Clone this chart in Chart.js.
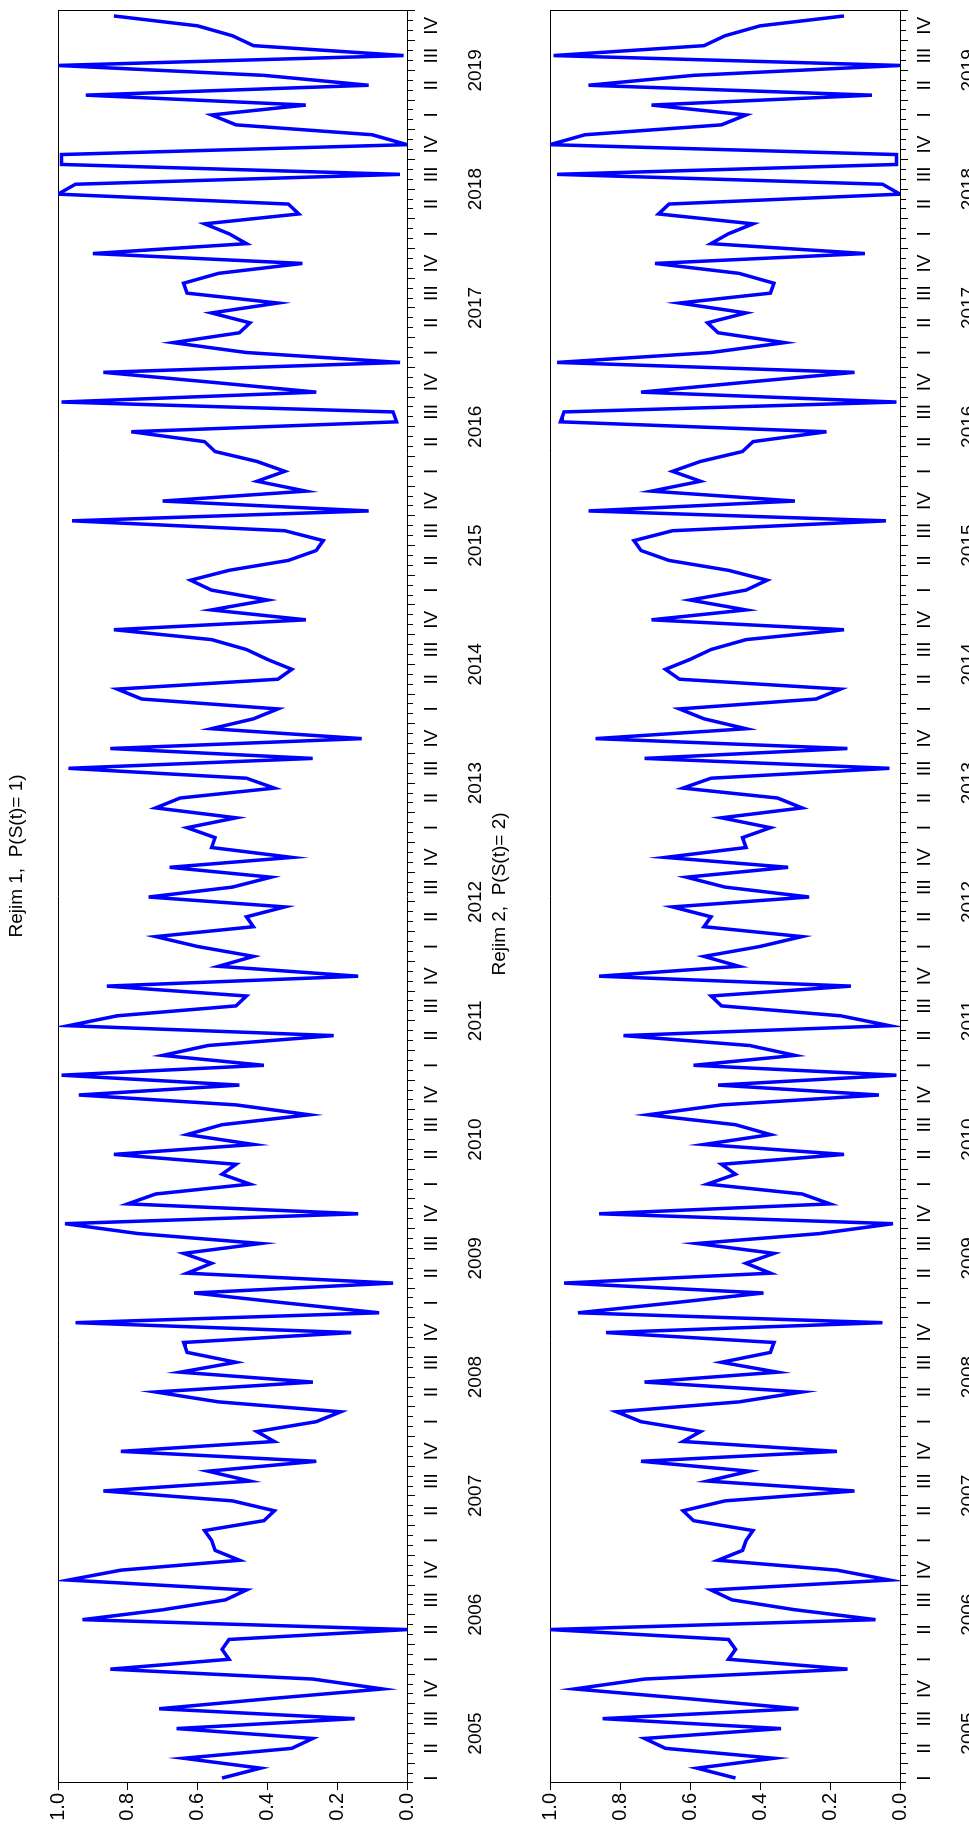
<!DOCTYPE html>
<html>
<head>
<meta charset="utf-8">
<script src="https://cdn.jsdelivr.net/npm/chart.js@4.4.1/dist/chart.umd.min.js"></script>
<style>
  html, body { margin: 0; padding: 0; background: #fff; overflow: hidden; }
  /* The two panels are laid out as a wide landscape sheet and turned a quarter turn */
  #sheet {
    position: absolute; left: 0; top: 0;
    width: 1832px; height: 969px;
    transform-origin: 0 0;
    transform: translateY(1832px) rotate(-90deg);
    background: #fff;
  }
  #sheet canvas { position: absolute; left: 0; }
  .panel-title {
    position: absolute;
    width: 600px;
    text-align: center;
    font: 19px 'Liberation Sans', Arial, Helvetica, sans-serif;
    line-height: 22px;
    color: #000;
    white-space: pre;
  }
</style>
</head>
<body>
<div id="sheet">
  <canvas id="regime1Chart" width="1832" height="485" style="top:0"></canvas>
  <canvas id="regime2Chart" width="1832" height="484" style="top:485px"></canvas>
  <div class="panel-title" id="title1" style="left:676px; top:5px;"></div>
  <div class="panel-title" id="title2" style="left:638px; top:488px;"></div>
</div>
<script>
// Monthly smoothed regime probabilities, 2005M02 - 2019M12
const years = [2005, 2006, 2007, 2008, 2009, 2010, 2011, 2012, 2013, 2014, 2015, 2016, 2017, 2018, 2019];
const quarterNames = ['I', 'II', 'III', 'IV'];
const panelTitles = ['Rejim 1,  P(S(t)= 1)', 'Rejim 2,  P(S(t)= 2)'];
const firstMonthOffset = 1; // series starts in February of the first year

const regime1 = [
  0.53, 0.42, 0.64, 0.33, 0.27, 0.66, 0.15, 0.71, 0.40, 0.07,
  0.27, 0.85, 0.51, 0.53, 0.51, 0.00, 0.93, 0.70, 0.52, 0.46,
  0.97, 0.82, 0.48, 0.55, 0.56, 0.58, 0.41, 0.38, 0.50, 0.87,
  0.45, 0.57, 0.26, 0.82, 0.38, 0.43, 0.26, 0.19, 0.54, 0.72,
  0.27, 0.65, 0.49, 0.63, 0.64, 0.16, 0.95, 0.08, 0.35, 0.61,
  0.04, 0.63, 0.56, 0.64, 0.42, 0.77, 0.98, 0.14, 0.80, 0.72,
  0.45, 0.53, 0.49, 0.84, 0.44, 0.63, 0.53, 0.28, 0.49, 0.94,
  0.48, 0.99, 0.41, 0.70, 0.57, 0.21, 0.97, 0.83, 0.49, 0.46,
  0.86, 0.14, 0.54, 0.44, 0.60, 0.72, 0.44, 0.46, 0.35, 0.74,
  0.50, 0.39, 0.68, 0.33, 0.56, 0.55, 0.63, 0.49, 0.72, 0.65,
  0.38, 0.46, 0.97, 0.27, 0.85, 0.13, 0.56, 0.44, 0.37, 0.76,
  0.83, 0.37, 0.33, 0.40, 0.46, 0.56, 0.84, 0.29, 0.56, 0.40,
  0.56, 0.62, 0.51, 0.34, 0.26, 0.24, 0.35, 0.96, 0.11, 0.70,
  0.29, 0.43, 0.35, 0.43, 0.55, 0.58, 0.79, 0.03, 0.04, 0.99,
  0.26, 0.56, 0.87, 0.02, 0.46, 0.67, 0.48, 0.45, 0.56, 0.37,
  0.63, 0.64, 0.54, 0.30, 0.90, 0.46, 0.51, 0.58, 0.31, 0.34,
  1.00, 0.95, 0.02, 0.99, 0.99, 0.00, 0.10, 0.49, 0.56, 0.29,
  0.92, 0.11, 0.41, 1.00, 0.01, 0.44, 0.50, 0.60, 0.84
];

const regime2 = [
  0.47, 0.58, 0.36, 0.67, 0.73, 0.34, 0.85, 0.29, 0.60, 0.93,
  0.73, 0.15, 0.49, 0.47, 0.49, 1.00, 0.07, 0.30, 0.48, 0.54,
  0.03, 0.18, 0.52, 0.45, 0.44, 0.42, 0.59, 0.62, 0.50, 0.13,
  0.55, 0.43, 0.74, 0.18, 0.62, 0.57, 0.74, 0.81, 0.46, 0.28,
  0.73, 0.35, 0.51, 0.37, 0.36, 0.84, 0.05, 0.92, 0.65, 0.39,
  0.96, 0.37, 0.44, 0.36, 0.58, 0.23, 0.02, 0.86, 0.20, 0.28,
  0.55, 0.47, 0.51, 0.16, 0.56, 0.37, 0.47, 0.72, 0.51, 0.06,
  0.52, 0.01, 0.59, 0.30, 0.43, 0.79, 0.03, 0.17, 0.51, 0.54,
  0.14, 0.86, 0.46, 0.56, 0.40, 0.28, 0.56, 0.54, 0.65, 0.26,
  0.50, 0.61, 0.32, 0.67, 0.44, 0.45, 0.37, 0.51, 0.28, 0.35,
  0.62, 0.54, 0.03, 0.73, 0.15, 0.87, 0.44, 0.56, 0.63, 0.24,
  0.17, 0.63, 0.67, 0.60, 0.54, 0.44, 0.16, 0.71, 0.44, 0.60,
  0.44, 0.38, 0.49, 0.66, 0.74, 0.76, 0.65, 0.04, 0.89, 0.30,
  0.71, 0.57, 0.65, 0.57, 0.45, 0.42, 0.21, 0.97, 0.96, 0.01,
  0.74, 0.44, 0.13, 0.98, 0.54, 0.33, 0.52, 0.55, 0.44, 0.63,
  0.37, 0.36, 0.46, 0.70, 0.10, 0.54, 0.49, 0.42, 0.69, 0.66,
  0.00, 0.05, 0.98, 0.01, 0.01, 1.00, 0.90, 0.51, 0.44, 0.71,
  0.08, 0.89, 0.59, 0.00, 0.99, 0.56, 0.50, 0.40, 0.16
];

// Category labels such as "2005M02"
const months = regime1.map((_, j) => {
  const k = j + firstMonthOffset;
  return (years[0] + Math.floor(k / 12)) + 'M' + String(k % 12 + 1).padStart(2, '0');
});

document.getElementById('title1').textContent = panelTitles[0];
document.getElementById('title2').textContent = panelTitles[1];

Chart.defaults.font.family = "'Liberation Sans', Arial, Helvetica, sans-serif";
Chart.defaults.color = '#000';

const BLACK = '#000';

function frameAxis(position) {
  return {
    type: 'linear', position, min: 0, max: 1,
    grid: { display: false },
    ticks: { display: false },
    border: { display: true, color: BLACK, width: 1 },
    afterFit: s => { if (position === 'top') s.height = 0; else s.width = 0; }
  };
}

function drawPanel(canvasId, values, g) {
  return new Chart(document.getElementById(canvasId), {
    type: 'line',
    data: {
      labels: months,
      datasets: [{
        data: values,
        borderColor: '#0000ff',
        borderWidth: 3.5,
        borderJoinStyle: 'miter',
        pointRadius: 0,
        tension: 0,
        fill: false,
        clip: 0
      }]
    },
    options: {
      responsive: false,
      animation: false,
      devicePixelRatio: 1,
      events: [],
      layout: { padding: { left: 0, right: 11, top: g.top, bottom: 0 } },
      plugins: {
        legend: { display: false },
        tooltip: { enabled: false },
        title: { display: false }
      },
      scales: {
        x: {
          type: 'category',
          position: 'bottom',
          weight: 0,
          offset: true,
          grid: {
            display: true,
            drawOnChartArea: false,
            offset: true,
            tickLength: 8,
            color: BLACK,
            tickColor: BLACK,
            tickWidth: 1,
            // long marks at quarter boundaries, short marks between months
            tickBorderDash: c => (c.index === undefined || c.index % 3 === 2) ? [] : [5, 100]
          },
          border: { display: true, color: BLACK, width: 1 },
          ticks: {
            autoSkip: false, maxRotation: 0, minRotation: 0,
            padding: 5,
            font: { size: 19 },
            color: BLACK,
            callback: (v, i) => {
              const k = i + firstMonthOffset;
              return (k % 3 === 1) ? quarterNames[Math.floor((k % 12) / 3)] : '';
            }
          },
          afterFit: s => { s.height = 40; }
        },
        year: {
          type: 'linear',
          position: 'bottom',
          weight: 1,
          min: -0.5,
          max: months.length - 0.5,
          grid: { display: false },
          border: { display: false },
          ticks: {
            autoSkip: false, maxRotation: 0, minRotation: 0,
            padding: 9,
            font: { size: 19 },
            color: BLACK,
            callback: v => String(years[Math.round((v + firstMonthOffset - 5.5) / 12)])
          },
          afterBuildTicks: s => {
            s.ticks = years.map((y, n) => ({ value: 12 * n + 5.5 - firstMonthOffset }));
          },
          afterFit: s => { s.height = g.yearHeight; }
        },
        y: {
          type: 'linear',
          position: 'left',
          min: 0,
          max: 1,
          grid: { drawOnChartArea: false, tickLength: 7, color: BLACK, tickColor: BLACK },
          border: { display: true, color: BLACK, width: 1 },
          ticks: {
            stepSize: 0.2,
            padding: 3,
            font: { size: 20 },
            color: BLACK,
            callback: v => Number(v).toFixed(1)
          },
          afterFit: s => { s.width = 49; }
        },
        frameTop: frameAxis('top'),
        frameRight: frameAxis('right')
      }
    }
  });
}

drawPanel('regime1Chart', regime1, { top: 58, yearHeight: 38 });
drawPanel('regime2Chart', regime2, { top: 65, yearHeight: 29 });
</script>
</body>
</html>
